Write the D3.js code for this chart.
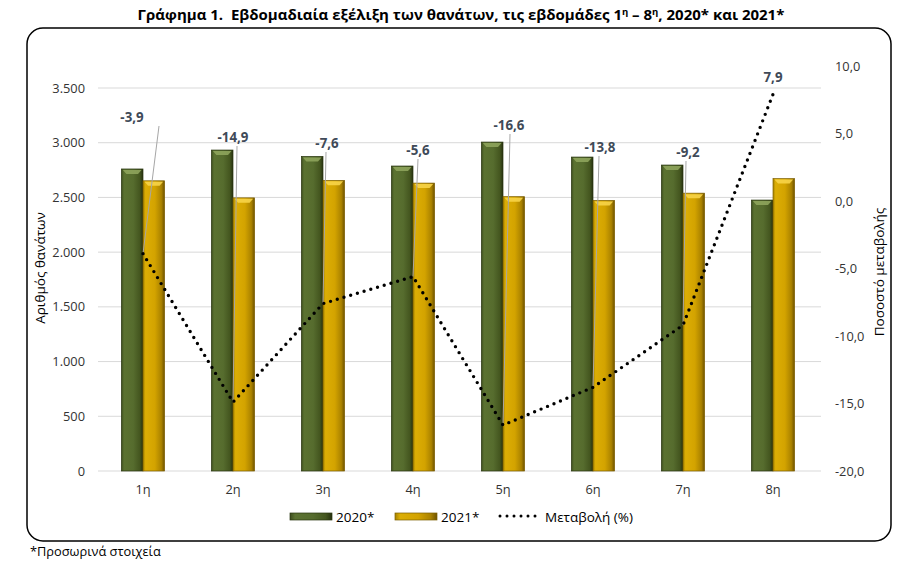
<!DOCTYPE html>
<html>
<head>
<meta charset="utf-8">
<script src="https://cdn.jsdelivr.net/npm/d3@7"></script>
<style>
  html, body { margin: 0; padding: 0; background: #fff; }
  svg { display: block; font-family: "Open Sans", "Noto Sans", sans-serif; }
</style>
</head>
<body>
<div id="chart"></div>
<script>
// εβδομαδιαίοι θάνατοι 2020 / 2021 και ποσοστό μεταβολής
const weeks = ["1η", "2η", "3η", "4η", "5η", "6η", "7η", "8η"];
const deaths2020 = [2760, 2933, 2875, 2787, 3006, 2869, 2796, 2476];
const deaths2021 = [2652, 2496, 2656, 2631, 2507, 2473, 2539, 2672];
const changePct = [-3.9, -14.9, -7.6, -5.6, -16.6, -13.8, -9.2, 7.9];
const leftTicks = [0, 500, 1000, 1500, 2000, 2500, 3000, 3500];
const rightTicks = [-20, -15, -10, -5, 0, 5, 10];

// θέσεις ετικετών (όπως μετακινήθηκαν στο πρωτότυπο)
const labelDx = [-11, 0, 4, 5, 6, 7, 5, 0];
const labelY = [117, 137, 143, 150, 125, 147, 152, 77];
const leadDx = [16, 4, 3, 5, 7, 6, 3, null];

const W = 902, H = 563;
const plot = { left: 98, right: 818, top: 88, bottom: 471 };

const svg = d3.select("#chart").append("svg").attr("width", W).attr("height", H);
const defs = svg.append("defs");

function barGradient(id, stops) {
  const g = defs.append("linearGradient").attr("id", id).attr("x1", "0").attr("x2", "1").attr("y1", "0").attr("y2", "0");
  stops.forEach(([o, c]) => g.append("stop").attr("offset", o).attr("stop-color", c));
}
barGradient("g2020", [["0", "#3c4c1d"], ["0.12", "#5b7231"], ["0.55", "#566c2e"], ["0.85", "#44561f"], ["1", "#27310f"]]);
barGradient("g2021", [["0", "#a58200"], ["0.12", "#dcae05"], ["0.55", "#d3a300"], ["0.85", "#aa8200"], ["1", "#6f5300"]]);

const series = [
  { key: "2020*", values: deaths2020, fill: "url(#g2020)", hi: "#8ea45c", edge: "#2a3610" },
  { key: "2021*", values: deaths2021, fill: "url(#g2021)", hi: "#f7d448", edge: "#7d5f00" },
];

// πλαίσιο
svg.append("rect")
  .attr("x", 27).attr("y", 28).attr("width", 864).attr("height", 513)
  .attr("rx", 16).attr("ry", 16)
  .attr("fill", "none").attr("stroke", "#000").attr("stroke-width", 1.5);

// τίτλος
const title = svg.append("text")
  .attr("x", 461).attr("y", 20).attr("text-anchor", "middle")
  .attr("font-weight", "bold").attr("font-size", 15).attr("fill", "#000")
  .style("white-space", "pre");
title.append("tspan").text("Γράφημα 1.  Εβδομαδιαία εξέλιξη των θανάτων, τις εβδομάδες 1");
title.append("tspan").attr("dy", -5).attr("font-size", 9.5).text("η");
title.append("tspan").attr("dy", 5).text(" – 8");
title.append("tspan").attr("dy", -5).attr("font-size", 9.5).text("η");
title.append("tspan").attr("dy", 5).text(", 2020* και 2021*");

const x0 = d3.scaleBand().domain(weeks).range([plot.left, plot.right]).paddingInner(0.52).paddingOuter(0.26);
const x1 = d3.scaleBand().domain(series.map((s) => s.key)).range([0, x0.bandwidth()]);
const yL = d3.scaleLinear().domain([0, 3500]).range([plot.bottom, plot.top]);
const yR = d3.scaleLinear().domain([-20, 10]).range([471, 66]);
const cx = (w) => x0(w) + x0.bandwidth() / 2;

// γραμμές πλέγματος
svg.append("g")
  .selectAll("line")
  .data(leftTicks)
  .join("line")
  .attr("x1", plot.left).attr("x2", plot.right + 3)
  .attr("y1", (d) => yL(d)).attr("y2", (d) => yL(d))
  .attr("stroke", "#d9d9d9").attr("stroke-width", 1);

// αριστερός άξονας
const fmtL = (d) => d3.format(",")(d).replace(/,/g, ".");
svg.append("g")
  .attr("transform", `translate(${plot.left - 13},0)`)
  .call(d3.axisLeft(yL).tickValues(leftTicks).tickFormat(fmtL).tickSize(0).tickPadding(0))
  .call((g) => g.select(".domain").remove())
  .selectAll("text")
  .attr("font-size", 12.8).attr("fill", "#333").attr("font-family", "Open Sans, sans-serif");

// δεξιός άξονας
const fmtR = (d) => d.toFixed(1).replace(".", ",");
svg.append("g")
  .attr("transform", `translate(835,0)`)
  .call(d3.axisRight(yR).tickValues(rightTicks).tickFormat(fmtR).tickSize(0).tickPadding(0))
  .call((g) => g.select(".domain").remove())
  .selectAll("text")
  .attr("font-size", 12.8).attr("fill", "#333").attr("font-family", "Open Sans, sans-serif");

// άξονας κατηγοριών
svg.append("g")
  .attr("transform", `translate(0,${plot.bottom + 14})`)
  .call(d3.axisBottom(x0).tickSize(0).tickPadding(0))
  .call((g) => g.select(".domain").remove())
  .selectAll("text")
  .attr("font-size", 12.8).attr("fill", "#333").attr("font-family", "Open Sans, sans-serif");

// τίτλοι αξόνων
svg.append("text")
  .attr("transform", "translate(45,268) rotate(-90)")
  .attr("text-anchor", "middle").attr("font-size", 13.5).attr("fill", "#000")
  .text("Αριθμός θανάτων");
svg.append("text")
  .attr("transform", "translate(884,272) rotate(-90)")
  .attr("text-anchor", "middle").attr("font-size", 13.5).attr("fill", "#000")
  .text("Ποσοστό μεταβολής");

// ράβδοι
function drawBar(g, x, y, w, h, s) {
  g.append("rect").attr("x", x).attr("y", y).attr("width", w).attr("height", h)
    .attr("fill", s.fill).attr("stroke", s.edge).attr("stroke-width", 0.7);
  g.append("path")
    .attr("d", `M${x + 1.5},${y + 1} L${x + w - 1.5},${y + 1} L${x + w - 5},${y + 5} L${x + 5},${y + 5} Z`)
    .attr("fill", s.hi).attr("opacity", 0.9);
}

const barsG = svg.append("g");
weeks.forEach((w, i) => {
  series.forEach((s) => {
    const v = s.values[i];
    const bx = x0(w) + x1(s.key);
    drawBar(barsG, bx, yL(v), x1.bandwidth(), yL(0) - yL(v), s);
  });
});

// γραμμές οδηγοί ετικετών
svg.append("g")
  .selectAll("line")
  .data(weeks.map((w, i) => ({ w, i })).filter((d) => leadDx[d.i] !== null))
  .join("line")
  .attr("x1", (d) => cx(d.w) + leadDx[d.i]).attr("y1", (d) => labelY[d.i] + 9)
  .attr("x2", (d) => cx(d.w)).attr("y2", (d) => yR(changePct[d.i]))
  .attr("stroke", "#a6a6a6").attr("stroke-width", 1);

// γραμμή μεταβολής
const line = d3.line().x((d, i) => cx(weeks[i])).y((d) => yR(d));
svg.append("path")
  .datum(changePct)
  .attr("d", line)
  .attr("fill", "none").attr("stroke", "#000")
  .attr("stroke-width", 3.4).attr("stroke-linecap", "round")
  .attr("stroke-dasharray", "0 7");

// ετικέτες τιμών
svg.append("g")
  .selectAll("text")
  .data(changePct)
  .join("text")
  .attr("x", (d, i) => cx(weeks[i]) + labelDx[i])
  .attr("y", (d, i) => labelY[i])
  .attr("dy", "0.35em")
  .attr("text-anchor", "middle")
  .attr("font-size", 13.3).attr("font-weight", "bold").attr("fill", "#404a58")
  .text((d) => fmtR(d));

// υπόμνημα
const leg = svg.append("g").attr("font-size", 13.5).attr("fill", "#000");
const legItems = [{ s: series[0], x: 290 }, { s: series[1], x: 395 }];
legItems.forEach(({ s, x }) => {
  leg.append("rect").attr("x", x).attr("y", 513).attr("width", 42).attr("height", 7)
    .attr("fill", s.fill).attr("stroke", s.edge).attr("stroke-width", 0.7);
  leg.append("text").attr("x", x + 46).attr("y", 517).attr("dy", "0.35em").text(s.key);
});
leg.append("line")
  .attr("x1", 500).attr("x2", 536).attr("y1", 516).attr("y2", 516)
  .attr("stroke", "#000").attr("stroke-width", 3).attr("stroke-linecap", "round")
  .attr("stroke-dasharray", "0 7");
leg.append("text").attr("x", 545).attr("y", 517).attr("dy", "0.35em").text("Μεταβολή (%)");

// σημείωση
svg.append("text")
  .attr("x", 30).attr("y", 552).attr("dy", "0.35em")
  .attr("font-size", 12.8).attr("fill", "#000")
  .text("*Προσωρινά στοιχεία");
</script>
</body>
</html>
